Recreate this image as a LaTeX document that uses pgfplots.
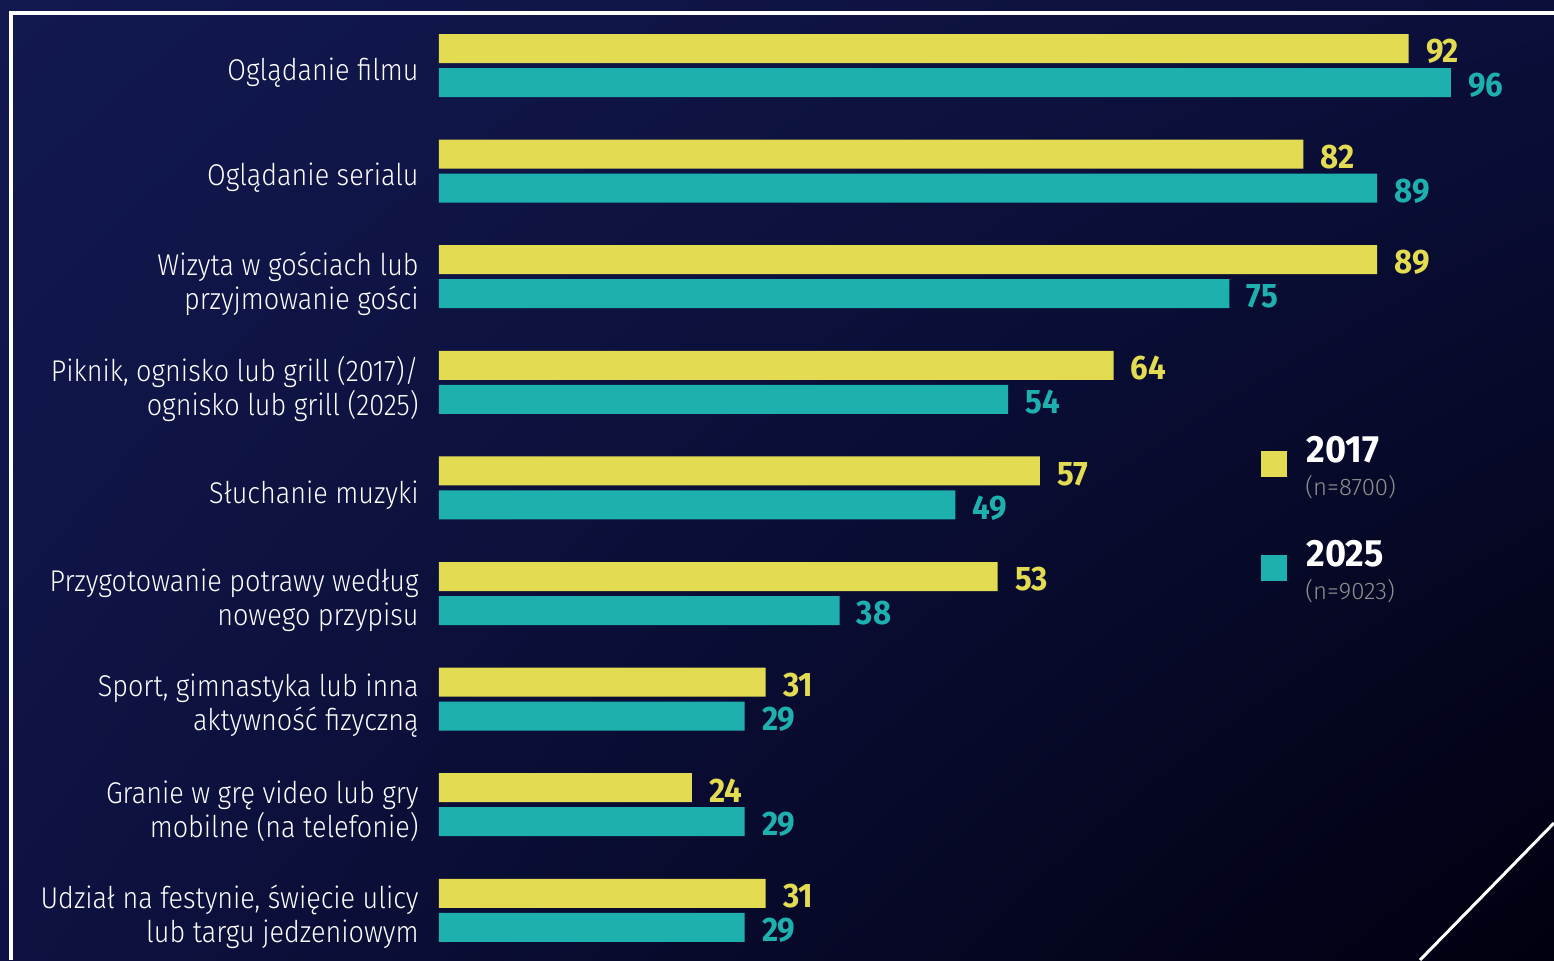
\documentclass[border=0pt]{standalone}
\usepackage{fontspec}
\usepackage{pgfplots}
\pgfplotsset{compat=1.18}
\usepackage{pgfplotstable}
\usetikzlibrary{shadings}
\setmainfont{Fira Sans}
\newfontfamily\catfont[FakeStretch=0.9]{Fira Sans Light}
\newfontfamily\lightfont{Fira Sans Light}
\newfontfamily\valfont[FakeStretch=0.92]{Fira Sans}
\newfontfamily\legfont[FakeStretch=0.95]{Fira Sans}
\definecolor{cyel}{HTML}{E3DB52}
\definecolor{cteal}{HTML}{1DB0AE}
\definecolor{bgA}{HTML}{12194F}
\definecolor{bgB}{HTML}{0B0F3A}
\definecolor{bgC}{HTML}{0E1242}
\definecolor{bgD}{HTML}{00000F}
\definecolor{cgray}{HTML}{8E8E8E}

\pgfplotstableread{
y v2017 v2025
8 92 96
7 82 89
6 89 75
5 64 54
4 57 49
3 53 38
2 31 29
1 24 29
0 31 29
}\datatable

\begin{document}
\begin{tikzpicture}
\useasboundingbox (0,0) rectangle (777pt,-480pt);
\shade[upper left=bgA, upper right=bgB, lower left=bgC, lower right=bgD] (0,0) rectangle (777pt,-480pt);
\draw[white, line width=2pt] (5.5pt,-480pt) -- (5.5pt,-6.5pt) -- (777pt,-6.5pt);
\draw[white, line width=1.5pt] (710pt,-480pt) -- (777pt,-411.5pt);
\begin{axis}[
  at={(219.5pt,-6.35pt)}, anchor=north west,
  scale only axis, width=556.5pt, height=475.2pt,
  xmin=0, xmax=105.6, ymin=-0.5, ymax=8.5,
  enlargelimits=false, clip=false,
  xbar, bar width=14.5pt,
  axis line style={draw=none}, major tick length=0pt,
  xtick=\empty,
  /pgf/number format/assume math mode=true,
  ytick={0,1,2,3,4,5,6,7,8},
  yticklabels={
    {Udział na festynie, święcie ulicy\\lub targu jedzeniowym},
    {Granie w grę video lub gry\\mobilne (na telefonie)},
    {Sport, gimnastyka lub inna\\aktywność fizyczną},
    {Przygotowanie potrawy według\\nowego przypisu},
    {Słuchanie muzyki},
    {Piknik, ognisko lub grill (2017)/\\ognisko lub grill (2025)},
    {Wizyta w gościach lub\\przyjmowanie gości},
    {Oglądanie serialu},
    {Oglądanie filmu}},
  yticklabel style={align=right, text=white, inner sep=0pt, xshift=-10pt, yshift=-3.5pt,
    font=\catfont\fontsize{15}{17}\selectfont},
  nodes near coords, point meta=x,
  every node near coord/.append style={anchor=west, inner sep=0pt, xshift=8.5pt, yshift=-1.5pt,
    font=\valfont\bfseries\fontsize{17}{17}\selectfont},
]
\addplot[draw=none, fill=cyel, bar shift=8.5pt, nodes near coords style={text=cyel}] table[x=v2017, y=y] {\datatable};
\addplot[draw=none, fill=cteal, bar shift=-8.5pt, nodes near coords style={text=cteal}] table[x=v2025, y=y] {\datatable};
\end{axis}
% legend
\fill[cyel] (630.5pt,-225.5pt) rectangle (643.5pt,-238.5pt);
\fill[cteal] (630.5pt,-277.5pt) rectangle (643.5pt,-290.5pt);
\node[anchor=west, inner sep=0pt, text=white, font=\legfont\bfseries\fontsize{19}{19}\selectfont] at (653pt,-225pt) {2017};
\node[anchor=west, inner sep=0pt, text=cgray, font=\lightfont\fontsize{12}{12}\selectfont] at (652.5pt,-243.5pt) {(n=8700)};
\node[anchor=west, inner sep=0pt, text=white, font=\legfont\bfseries\fontsize{19}{19}\selectfont] at (653pt,-277pt) {2025};
\node[anchor=west, inner sep=0pt, text=cgray, font=\lightfont\fontsize{12}{12}\selectfont] at (652.5pt,-295.5pt) {(n=9023)};
\end{tikzpicture}
\end{document}
